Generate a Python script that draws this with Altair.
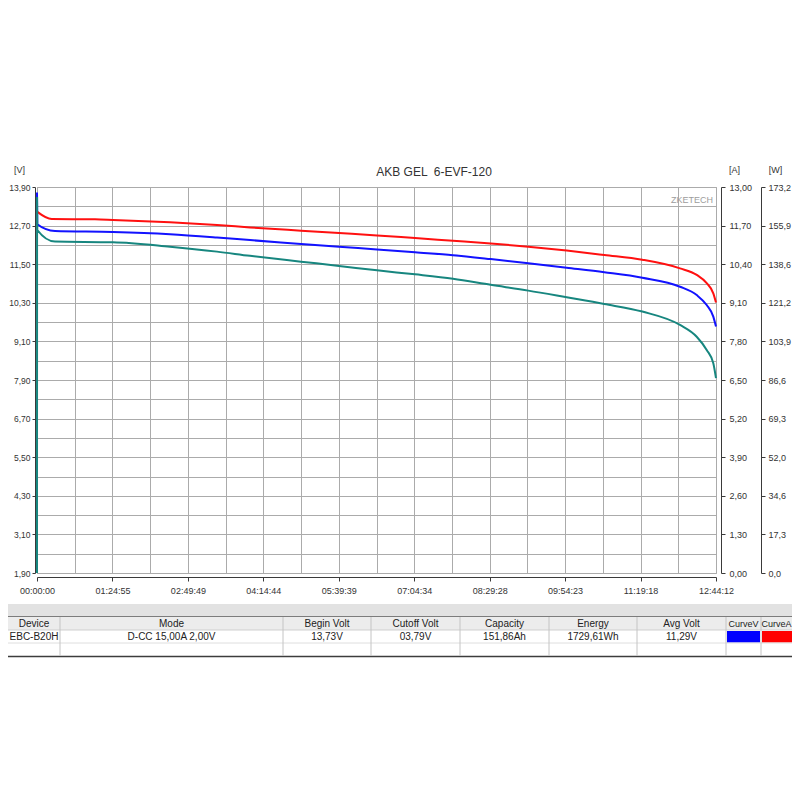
import altair as alt
import pandas as pd

FONT = "Liberation Sans"

# ---------------- data ----------------
total_seconds = 45852  # 12:44:12
x_tick_labels = ["00:00:00", "01:24:55", "02:49:49", "04:14:44", "05:39:39",
                 "07:04:34", "08:29:28", "09:54:23", "11:19:18", "12:44:12"]

v_domain = [1.9, 13.9]
a_domain = [0.0, 13.0]
w_domain = [0.0, 173.2]

# CurveA (red) - current, [A]
time_red = [0, 993, 3917, 5132, 8981, 12155, 14384, 17828, 20394, 22960, 25526,
            28092, 30638, 33177, 35770, 38310, 40875, 43421, 44549, 45224, 45670, 45852]
amps_red = [12.17, 11.92, 11.91, 11.89, 11.81, 11.72, 11.64, 11.53, 11.45, 11.37, 11.28,
            11.19, 11.10, 10.99, 10.86, 10.71, 10.55, 10.26, 10.04, 9.76, 9.42, 9.11]

# CurveV (blue) - voltage, [V]
time_blue = [0, 20, 1215, 5132, 8981, 12155, 14384, 17828, 20394, 22960, 25526,
             28092, 30638, 33177, 35770, 38310, 40875, 43421, 44549, 45224, 45670, 45852]
volts_blue = [13.73, 12.74, 12.53, 12.50, 12.43, 12.33, 12.25, 12.13, 12.04, 11.96, 11.87,
              11.78, 11.66, 11.53, 11.39, 11.25, 11.08, 10.80, 10.54, 10.23, 9.87, 9.56]

# Power (teal), [W]
time_teal = [0, 5, 20, 1215, 5132, 8981, 12155, 14384, 17828, 20394, 22960, 25526,
             28092, 30638, 33177, 35770, 38310, 40875, 43421, 44549, 45224, 45670, 45852]
watts_teal = [0.0, 168.7, 153.9, 148.7, 148.4, 146.4, 144.2, 142.3, 139.7, 137.8, 135.8, 134.0,
              132.0, 129.3, 126.7, 123.7, 120.7, 117.3, 111.3, 106.0, 100.1, 94.1, 87.4]

chart_title = "AKB GEL \u00a06-EVF-120"
watermark = "ZKETECH"

table_headers = ["Device", "Mode", "Begin Volt", "Cutoff Volt", "Capacity",
                 "Energy", "Avg Volt", "CurveV", "CurveA"]
table_values = ["EBC-B20H", "D-CC 15,00A 2,00V", "13,73V", "03,79V", "151,86Ah",
                "1729,61Wh", "11,29V", "", ""]

# ---------------- layout (page pixels) ----------------
OX, OY = 37, 187            # plot origin on the page
W, H = 679, 386
col_edges = [8, 60, 283, 371, 460, 549, 637, 726, 761, 792]

# ---------------- tables for the library ----------------
df_red = pd.DataFrame({"t": time_red, "v": amps_red})
df_blue = pd.DataFrame({"t": time_blue, "v": volts_blue})
df_teal = pd.DataFrame({"t": time_teal, "v": watts_teal})

x_grid = [total_seconds * i / 18 for i in range(19)]
v_grid = [round(v_domain[0] + 0.6 * i, 2) for i in range(21)]
a_ticks = [round(1.3 * i, 2) for i in range(11)]
w_ticks = [round(17.32 * i, 2) for i in range(11)]

lab_arr = "[" + ",".join("'%s'" % s for s in x_tick_labels) + "]"
x_label_expr = ("round(datum.value/%f) %% 2 == 0 ? %s[round(datum.value/%f)] : ''"
                % (total_seconds / 18, lab_arr, total_seconds / 9))
x_tick_test = "round(datum.value/%f) %% 2 == 0" % (total_seconds / 18)
v_tick_test = "round((datum.value-1.9)/0.6) % 2 == 0"
v_label_expr = v_tick_test + " ? replace(format(datum.value, '.2f'), '.', ',') : ''"

GRID = "#ababab"
AX = "#3a3a3a"
TXT = "#333333"

common_axis = dict(labelFont=FONT, labelFontSize=9, labelColor=TXT, domainColor=AX,
                   tickColor=AX, tickSize=4, titleFont=FONT, titleFontSize=9,
                   titleFontWeight="normal", titleColor=TXT, titleAngle=0,
                   titleAlign="center", titleBaseline="middle")

x_axis = alt.Axis(orient="bottom", offset=4, values=x_grid, grid=True, gridColor=GRID,
                  gridWidth=1, labelExpr=x_label_expr, labelFlush=False, labelOverlap=False,
                  labelPadding=5, labelAngle=0, title=None,
                  tickOpacity={"condition": {"test": x_tick_test, "value": 1}, "value": 0},
                  **{k: v for k, v in common_axis.items() if not k.startswith("title")})

v_common = dict(common_axis)
v_common.update(labelFontSize=8.5, tickSize=3)
v_axis = alt.Axis(orient="left", offset=2, values=v_grid, grid=True, gridColor=GRID,
                  gridWidth=1, labelExpr=v_label_expr, labelPadding=2, labelOverlap=False,
                  tickOpacity={"condition": {"test": v_tick_test, "value": 1}, "value": 0},
                  title="[V]", titleX=-16, titleY=-18, **v_common)

a_axis = alt.Axis(orient="right", offset=5, values=a_ticks, grid=False,
                  labelExpr="replace(format(datum.value, '.2f'), '.', ',')",
                  labelPadding=4, labelOverlap=False,
                  title="[A]", titleX=13, titleY=-18, **common_axis)

w_axis = alt.Axis(orient="right", offset=45, values=w_ticks, grid=False,
                  labelExpr="replace(format(datum.value, '.1f'), '.', ',')",
                  labelPadding=3, labelOverlap=False,
                  title="[W]", titleX=14, titleY=-18, **common_axis)

xenc = alt.X("t:Q", scale=alt.Scale(domain=[0, total_seconds], nice=False, zero=False),
             axis=x_axis)

blue = alt.Chart(df_blue).mark_line(color="#1212ff", strokeWidth=2, interpolate="monotone").encode(
    x=xenc, y=alt.Y("v:Q", scale=alt.Scale(domain=v_domain, nice=False, zero=False), axis=v_axis))
red = alt.Chart(df_red).mark_line(color="#ff1010", strokeWidth=2, interpolate="monotone").encode(
    x=xenc, y=alt.Y("v:Q", scale=alt.Scale(domain=a_domain, nice=False, zero=False), axis=a_axis))
teal = alt.Chart(df_teal).mark_line(color="#17867f", strokeWidth=2, interpolate="monotone").encode(
    x=xenc, y=alt.Y("v:Q", scale=alt.Scale(domain=w_domain, nice=False, zero=False), axis=w_axis))

# ---------------- bottom info table ----------------
rects = [
    (8, 792, 604, 616, "#e2e2e2"),
    (8, 792, 617, 630, "#ececec"),
    (col_edges[7] + 1, col_edges[8] - 1, 631, 642.5, "#0000ff"),
    (col_edges[8] + 1, col_edges[9], 631, 642.5, "#ff0000"),
]
df_rect = pd.DataFrame(rects, columns=["x0", "x1", "y0", "y1", "fill"])
df_rect[["x0", "x1"]] -= OX
df_rect[["y0", "y1"]] -= OY

lines = [
    (8, 792, 616.5, 616.5, "#7c7c7c", 1),
    (8, 792, 630, 630, "#cfcfcf", 1),
    (8, 792, 643, 643, "#dedede", 1),
    (8, 792, 656.5, 656.5, "#3c3c3c", 1.5),
]
for cx in col_edges[1:-1]:
    lines.append((cx, cx, 617, 656, "#c4c4c4", 1))
df_line = pd.DataFrame(lines, columns=["x0", "x1", "y0", "y1", "col", "sw"])
df_line[["x0", "x1"]] -= OX
df_line[["y0", "y1"]] -= OY

centers = [(col_edges[i] + col_edges[i + 1]) / 2 for i in range(len(table_headers))]
texts = [(c, 623.5, h, 10 if i < 7 else 9) for i, (c, h) in enumerate(zip(centers, table_headers))]
texts += [(c, 636.5, v, 10) for c, v in zip(centers, table_values) if v]
df_text = pd.DataFrame(texts, columns=["x", "y", "text", "fs"])
df_text["x"] -= OX
df_text["y"] -= OY

px = lambda f: alt.X(f, scale=None, axis=None)
py = lambda f: alt.Y(f, scale=None, axis=None)

rect_layer = alt.Chart(df_rect).mark_rect().encode(
    x=px("x0:Q"), x2="x1:Q", y=py("y0:Q"), y2="y1:Q",
    color=alt.Color("fill:N", scale=None, legend=None))
line_layer = alt.Chart(df_line).mark_rule().encode(
    x=px("x0:Q"), x2="x1:Q", y=py("y0:Q"), y2="y1:Q",
    color=alt.Color("col:N", scale=None, legend=None),
    strokeWidth=alt.StrokeWidth("sw:Q", scale=None, legend=None))
text_layer = alt.Chart(df_text).mark_text(font=FONT, color="#222222",
                                          align="center", baseline="middle").encode(
    x=px("x:Q"), y=py("y:Q"), text="text:N",
    size=alt.Size("fs:Q", scale=None, legend=None))

df_title = pd.DataFrame({"x": [434 - OX], "y": [172 - OY], "text": [chart_title]})
title_layer = alt.Chart(df_title).mark_text(font=FONT, fontSize=12, color=TXT,
                                            align="center", baseline="middle").encode(
    x=px("x:Q"), y=py("y:Q"), text="text:N")
df_wm = pd.DataFrame({"x": [713 - OX], "y": [200 - OY], "text": [watermark]})
wm_layer = alt.Chart(df_wm).mark_text(font=FONT, fontSize=9, color="#9c9c9c",
                                      align="right", baseline="middle").encode(
    x=px("x:Q"), y=py("y:Q"), text="text:N")

chart = alt.layer(
    blue, red, teal, rect_layer, line_layer, text_layer, title_layer, wm_layer
).resolve_scale(y="independent").properties(
    width=W, height=H,
    autosize=alt.AutoSizeParams(type="none"),
    padding={"left": OX - 8, "top": OY - 8, "right": 792 - OX - W, "bottom": 792 - OY - H},
    background="white",
).configure_view(stroke=GRID)

chart.save("out.html", embed_options={"renderer": "svg", "actions": False})
